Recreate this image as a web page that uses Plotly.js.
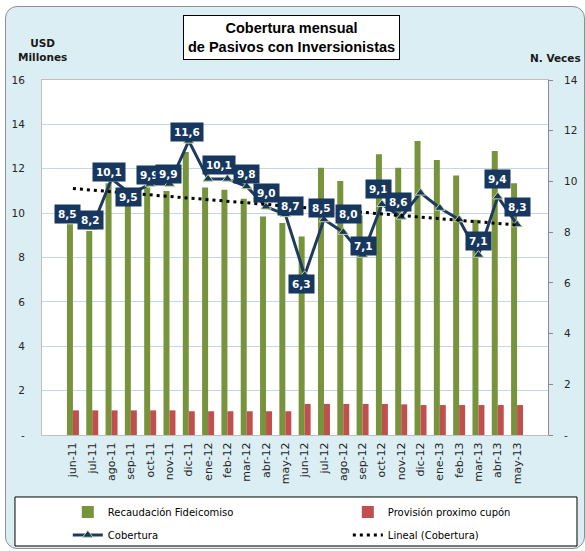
<!DOCTYPE html>
<html>
<head>
<meta charset="utf-8">
<script src="https://cdn.plot.ly/plotly-3.0.1.min.js"></script>
<style>
  html, body { margin: 0; padding: 0; background: #ffffff; }
  #wrap { position: relative; width: 585px; height: 551px; overflow: hidden; }
  #frame { position: absolute; left: 5px; top: 6px; width: 578px; height: 541px;
           background: #DBEEF4; border: 1px solid #8F8F8F; border-radius: 12px; }
  #chart { position: absolute; left: 0; top: 0; width: 585px; height: 551px; }
</style>
</head>
<body>
<div id="wrap">
  <div id="frame"></div>
  <div id="chart"></div>
</div>
<script>
// ---- data ----
const months = ['jun-11','jul-11','ago-11','sep-11','oct-11','nov-11','dic-11','ene-12','feb-12','mar-12','abr-12','may-12',
                'jun-12','jul-12','ago-12','sep-12','oct-12','nov-12','dic-12','ene-13','feb-13','mar-13','abr-13','may-13'];
const recaudacion = [9.5, 9.2, 11.35, 10.5, 11.15, 11.0, 12.75, 11.15, 11.05, 10.65, 9.85, 9.55,
                     8.95, 12.05, 11.45, 9.9, 12.65, 12.05, 13.25, 12.4, 11.7, 9.7, 12.8, 11.35];
const provision = [1.11, 1.11, 1.11, 1.11, 1.11, 1.11, 1.07, 1.07, 1.07, 1.07, 1.07, 1.07,
                   1.4, 1.4, 1.4, 1.4, 1.4, 1.38, 1.35, 1.35, 1.35, 1.35, 1.35, 1.35];
const cobertura = [8.5, 8.2, 10.1, 9.5, 9.9, 9.9, 11.6, 10.1, 10.1, 9.8, 9.0, 8.7,
                   6.3, 8.5, 8.0, 7.1, 9.1, 8.6, 9.55, 8.95, 8.5, 7.1, 9.4, 8.3];
const showLabel = [true,true,true,true,true,true,true,true,false,true,true,true,
                   true,true,true,true,true,true,false,false,false,true,true,true];
// trend line (Lineal (Cobertura)) endpoints
const trendX = [months[0], months[months.length - 1]];
const trendY = [9.72, 8.28];

const leftTickVals = [0, 2, 4, 6, 8, 10, 12, 14, 16];
const leftTickText = ['-', '2', '4', '6', '8', '10', '12', '14', '16'];
const rightTickVals = [0, 2, 4, 6, 8, 10, 12, 14];
const rightTickText = ['-', '2', '4', '6', '8', '10', '12', '14'];

// label placement tweaks (px): [dx, dy up]
const labelOffsets = [[-5,5],[-2,7],[-3,7],[-2,-3],[-1,9],[-1,10],[-2,9],[11,14],null,[0,13],[0,14],[5,8],
                      [-3,-9],[-2,11],[5,18],[1,9],[-3,15],[-3,15],null,null,null,[0,14],[0,18],[0,18]];

const tickFont = {family: 'DejaVu Sans, Verdana, sans-serif', size: 10.5, color: '#262626'};

const traces = [
  {type: 'bar', name: 'Recaudación Fideicomiso', x: months, y: recaudacion, legend: 'legend', legendgroup: 'a',
   marker: {color: '#77933C'}, yaxis: 'y', hoverinfo: 'skip'},
  {type: 'bar', name: 'Provisión proximo cupón', x: months, y: provision, legend: 'legend2', legendgroup: 'b',
   marker: {color: '#C0504D'}, yaxis: 'y', hoverinfo: 'skip'},
  {type: 'scatter', mode: 'lines+markers', name: 'Cobertura', x: months, y: cobertura, yaxis: 'y2',
   legend: 'legend', legendgroup: 'c',
   line: {color: '#1F3A60', width: 3},
   marker: {symbol: 'triangle-up', size: 9, color: '#17375E', line: {color: '#C3D69B', width: 1}},
   hoverinfo: 'skip'},
  {type: 'scatter', mode: 'lines', name: 'Lineal (Cobertura)', x: trendX, y: trendY, yaxis: 'y2',
   legend: 'legend2', legendgroup: 'd',
   line: {color: '#000000', width: 3, dash: '3px,4px'}, hoverinfo: 'skip'}
];

const annotations = [];
cobertura.forEach(function (v, i) {
  if (!showLabel[i]) return;
  const off = labelOffsets[i] || [0, 12];
  annotations.push({
    x: months[i], y: v, xref: 'x', yref: 'y2',
    text: v.toFixed(1).replace('.', ','), showarrow: false,
    font: {family: 'DejaVu Sans, sans-serif', size: 10.5, color: '#FFFFFF', weight: 'bold'},
    bgcolor: '#17375E', borderpad: 3,
    xshift: off[0], yshift: off[1]
  });
});
annotations.push({
  xref: 'paper', yref: 'paper', x: 0.494, y: 1.12, xanchor: 'center', yanchor: 'middle',
  text: '<b>Cobertura mensual</b><br><b>de Pasivos con Inversionistas</b>', showarrow: false,
  font: {family: 'Liberation Sans, Arial, sans-serif', size: 14.5, color: '#000000'},
  bgcolor: '#FFFFFF', bordercolor: '#000000', borderwidth: 1, borderpad: 4
});
annotations.push({
  xref: 'paper', yref: 'paper', x: 0.0, y: 1.085, xanchor: 'center', yanchor: 'middle',
  text: '<b>USD</b><br><b>Millones</b>', showarrow: false,
  font: {family: 'DejaVu Sans, Verdana, sans-serif', size: 10.5, color: '#1a1a1a'}
});
annotations.push({
  xref: 'paper', yref: 'paper', x: 1.014, y: 1.062, xanchor: 'center', yanchor: 'middle',
  text: '<b>N. Veces</b>', showarrow: false,
  font: {family: 'DejaVu Sans, Verdana, sans-serif', size: 10.5, color: '#1a1a1a'}
});

const legendCommon = {
  orientation: 'v', xanchor: 'left', yanchor: 'top', y: -0.176,
  bgcolor: 'rgba(0,0,0,0)', borderwidth: 0, tracegroupgap: 4, traceorder: 'grouped',
  font: {family: 'DejaVu Sans, Verdana, sans-serif', size: 10, color: '#000000'}
};

const layout = {
  width: 585, height: 551,
  margin: {l: 42, r: 37, t: 80, b: 116, autoexpand: false},
  paper_bgcolor: 'rgba(0,0,0,0)',
  plot_bgcolor: '#FFFFFF',
  barmode: 'group', bargap: 0.38, bargroupgap: 0,
  xaxis: {type: 'category', tickangle: -90, tickfont: {family: 'DejaVu Sans, Verdana, sans-serif', size: 11, color: '#262626'},
          showline: true, linecolor: '#BFBFBF', mirror: true, ticks: '', showgrid: false,
          ticklabelstandoff: 2, fixedrange: true},
  yaxis: {range: [0, 16], tickvals: leftTickVals, ticktext: leftTickText, tickfont: tickFont,
          showgrid: true, gridcolor: '#C5D5EA', gridwidth: 1, zeroline: false,
          showline: true, linecolor: '#BFBFBF', ticks: '', ticklabelstandoff: 14, fixedrange: true},
  yaxis2: {range: [0, 14], overlaying: 'y', side: 'right', tickvals: rightTickVals, ticktext: rightTickText,
           tickfont: tickFont, showgrid: false, zeroline: false, showline: true, linecolor: '#8C8C8C',
           ticks: 'outside', ticklen: 4, tickcolor: '#8C8C8C', ticklabelstandoff: 9, fixedrange: true},
  showlegend: true,
  legend: Object.assign({}, legendCommon, {x: 0.051}),
  legend2: Object.assign({}, legendCommon, {x: 0.6044}),
  shapes: [{type: 'rect', xref: 'paper', yref: 'paper', x0: -0.0534, x1: 1.0573, y0: -0.3127, y1: -0.1746,
            fillcolor: '#FFFFFF', line: {color: '#000000', width: 1}, layer: 'below'}],
  annotations: annotations
};

Plotly.newPlot('chart', traces, layout, {staticPlot: true, displayModeBar: false});
</script>
</body>
</html>
